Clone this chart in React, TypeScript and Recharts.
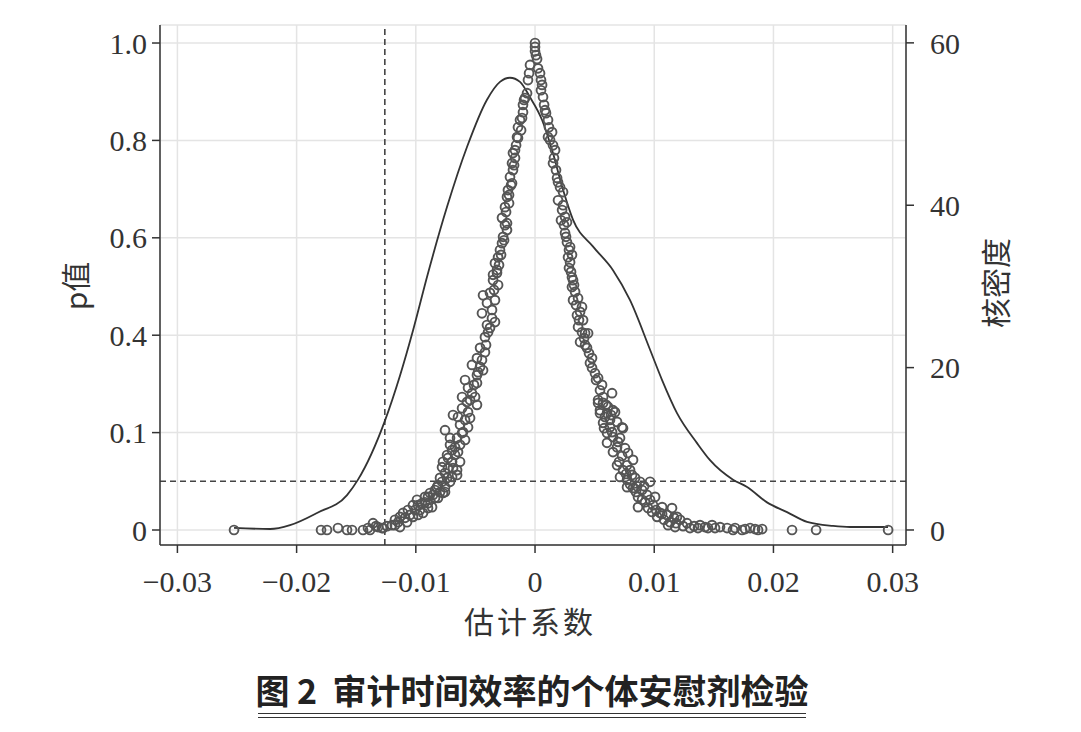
import React from 'react';
import {
  ComposedChart,
  Scatter,
  Line,
  XAxis,
  YAxis,
  CartesianGrid,
  ReferenceLine
} from 'recharts';

// placebo estimates: [coefficient, p value]
const topCluster: [number, number][] = [
  [0, 1.0], [0, 0.992], [0, 0.983], [0.00008, 0.975], [0.00017, 0.967],
  [-0.00042, 0.955], [-0.0005, 0.938], [-0.00059, 0.924],
  [0.00025, 0.948], [0.00042, 0.938], [0.0005, 0.924], [0.00059, 0.914]
];

const leftBranch: [number, number][] = [
  [-0.00067, 0.897], [-0.00084, 0.887], [-0.00101, 0.873], [-0.00101, 0.858],
  [-0.00126, 0.842], [-0.00143, 0.827], [-0.00117, 0.821], [-0.00151, 0.807],
  [-0.00159, 0.79], [-0.00185, 0.774], [-0.00168, 0.764], [-0.00193, 0.753],
  [-0.00185, 0.739], [-0.0021, 0.725], [-0.00193, 0.712], [-0.00227, 0.698],
  [-0.00235, 0.684], [-0.00218, 0.671], [-0.00252, 0.663], [-0.00277, 0.641],
  [-0.00235, 0.63], [-0.00235, 0.616], [-0.00268, 0.602], [-0.00277, 0.589],
  [-0.00294, 0.575], [-0.0031, 0.56], [-0.00336, 0.548], [-0.00319, 0.534],
  [-0.00352, 0.524], [-0.00319, 0.528], [-0.00352, 0.513], [-0.0031, 0.503],
  [-0.00436, 0.482], [-0.00378, 0.487], [-0.00336, 0.472], [-0.00403, 0.466],
  [-0.00445, 0.445], [-0.00361, 0.435], [-0.00336, 0.427], [-0.00403, 0.421],
  [-0.00394, 0.406], [-0.0042, 0.396], [-0.00461, 0.374], [-0.0042, 0.365],
  [-0.00487, 0.353], [-0.00529, 0.339], [-0.00461, 0.335], [-0.00436, 0.328],
  [-0.00487, 0.318], [-0.00587, 0.308], [-0.00487, 0.302], [-0.00562, 0.292],
  [-0.00529, 0.281], [-0.00612, 0.273], [-0.00503, 0.273], [-0.00571, 0.263],
  [-0.00487, 0.257], [-0.00612, 0.25], [-0.00562, 0.242], [-0.00688, 0.236],
  [-0.00646, 0.232], [-0.00587, 0.226], [-0.00629, 0.216], [-0.00562, 0.211],
  [-0.00755, 0.205], [-0.00612, 0.199], [-0.00587, 0.185], [-0.00713, 0.189],
  [-0.00654, 0.189], [-0.00696, 0.164], [-0.00738, 0.154], [-0.00671, 0.154],
  [-0.00772, 0.14], [-0.00696, 0.14], [-0.00629, 0.14], [-0.0078, 0.129],
  [-0.0073, 0.127], [-0.00654, 0.123], [-0.00755, 0.117], [-0.00696, 0.109],
  [-0.00654, 0.113], [-0.00797, 0.107], [-0.00713, 0.099], [-0.00814, 0.092],
  [-0.00755, 0.088], [-0.00839, 0.082], [-0.00772, 0.076], [-0.00881, 0.076],
  [-0.00923, 0.068], [-0.00839, 0.066], [-0.0099, 0.062], [-0.00948, 0.055],
  [-0.00898, 0.055], [-0.01024, 0.051], [-0.00864, 0.047], [-0.00965, 0.041],
  [-0.01066, 0.041], [-0.0094, 0.035], [-0.01107, 0.035], [-0.01133, 0.027],
  [-0.01024, 0.027], [-0.01175, 0.021], [-0.01074, 0.016], [-0.012, 0.01],
  [-0.01133, 0.006], [-0.01275, 0.004]
];

const leftBranchDense: [number, number][] = [
  [-0.0073, 0.148], [-0.00713, 0.175], [-0.00671, 0.17], [-0.00646, 0.16],
  [-0.00688, 0.127], [-0.00738, 0.107], [-0.0078, 0.099], [-0.00822, 0.088],
  [-0.00797, 0.078], [-0.00856, 0.072], [-0.00898, 0.068], [-0.00923, 0.057],
  [-0.00982, 0.051], [-0.01007, 0.041], [-0.01049, 0.031], [-0.0109, 0.025],
  [-0.01149, 0.016], [-0.01175, 0.01], [-0.00982, 0.031], [-0.00898, 0.045],
  [-0.00814, 0.066], [-0.00755, 0.078], [-0.00629, 0.175], [-0.00604, 0.201],
  [-0.00545, 0.23], [-0.00545, 0.267], [-0.00512, 0.298], [-0.00478, 0.324],
  [-0.00445, 0.349], [-0.00411, 0.38], [-0.00378, 0.415], [-0.00361, 0.452],
  [-0.00344, 0.493], [-0.00302, 0.544], [-0.00285, 0.565], [-0.0026, 0.595],
  [-0.00252, 0.626], [-0.00243, 0.653], [-0.00218, 0.688], [-0.00201, 0.708],
  [-0.00176, 0.749], [-0.00168, 0.78], [-0.00143, 0.805], [-0.00109, 0.846],
  [-0.00092, 0.883]
];

const leftTail: [number, number][] = [
  [-0.02525, 0], [-0.01795, 0], [-0.01745, 0], [-0.01653, 0.004], [-0.01577, 0],
  [-0.01535, 0], [-0.01443, 0], [-0.01401, 0.004], [-0.01384, 0], [-0.01359, 0.014],
  [-0.01334, 0.008], [-0.01317, 0.006], [-0.01284, 0.004], [-0.01242, 0.008]
];

const rightBranch: [number, number][] = [
  [0.0005, 0.903], [0.00067, 0.889], [0.00076, 0.873], [0.00092, 0.856],
  [0.00109, 0.842], [0.00117, 0.827], [0.00143, 0.817], [0.00109, 0.807],
  [0.00151, 0.79], [0.00168, 0.78], [0.00151, 0.753], [0.00176, 0.739],
  [0.00185, 0.723], [0.0021, 0.704], [0.00235, 0.694], [0.00193, 0.677],
  [0.00227, 0.657], [0.00252, 0.643], [0.00218, 0.636], [0.00268, 0.632],
  [0.00252, 0.61], [0.0026, 0.602], [0.00268, 0.591], [0.00294, 0.581],
  [0.0031, 0.565], [0.00277, 0.56], [0.00285, 0.538], [0.00302, 0.53],
  [0.0031, 0.519], [0.00319, 0.513], [0.0031, 0.499], [0.00336, 0.489],
  [0.00319, 0.472], [0.00361, 0.476], [0.00394, 0.458], [0.00352, 0.441],
  [0.00369, 0.431], [0.00403, 0.431], [0.00361, 0.417], [0.00394, 0.406],
  [0.0042, 0.404], [0.00445, 0.404], [0.00378, 0.386], [0.0042, 0.38],
  [0.00453, 0.363], [0.00461, 0.343], [0.00478, 0.333], [0.00503, 0.322],
  [0.00529, 0.312], [0.00562, 0.298], [0.00646, 0.281], [0.00529, 0.267],
  [0.00571, 0.261], [0.00612, 0.253], [0.00654, 0.246], [0.00545, 0.24],
  [0.00587, 0.232], [0.00629, 0.226], [0.00688, 0.222], [0.0073, 0.211],
  [0.00529, 0.261], [0.00545, 0.246], [0.00604, 0.24], [0.00671, 0.242],
  [0.00571, 0.22], [0.00629, 0.211], [0.00738, 0.209], [0.00604, 0.199],
  [0.00654, 0.191], [0.00713, 0.189], [0.00604, 0.179], [0.00688, 0.17],
  [0.00755, 0.168], [0.0078, 0.158], [0.00822, 0.144], [0.00688, 0.133],
  [0.00738, 0.123], [0.00797, 0.123], [0.00713, 0.109], [0.00772, 0.103],
  [0.00839, 0.107], [0.00881, 0.099], [0.00965, 0.099], [0.00772, 0.088],
  [0.00822, 0.086], [0.00898, 0.082], [0.00864, 0.068], [0.0094, 0.072],
  [0.01007, 0.068], [0.00923, 0.057], [0.0099, 0.051], [0.01066, 0.047],
  [0.00864, 0.047], [0.00982, 0.037], [0.01049, 0.035], [0.01149, 0.045],
  [0.01107, 0.031], [0.01191, 0.027], [0.01024, 0.027], [0.01133, 0.016],
  [0.01217, 0.021], [0.01116, 0.01], [0.01275, 0.014], [0.01175, 0.006],
  [0.013, 0.004]
];

const rightBranchDense: [number, number][] = [
  [0.00084, 0.862], [0.00126, 0.801], [0.00159, 0.764], [0.00193, 0.714],
  [0.00235, 0.667], [0.00243, 0.626], [0.00285, 0.575], [0.00294, 0.55],
  [0.00327, 0.503], [0.00344, 0.462], [0.00378, 0.448], [0.00411, 0.394],
  [0.00436, 0.374], [0.00478, 0.353], [0.00512, 0.308], [0.00545, 0.287],
  [0.00571, 0.273], [0.00596, 0.257], [0.00638, 0.236], [0.00579, 0.209],
  [0.00646, 0.201], [0.00696, 0.181], [0.00654, 0.16], [0.0073, 0.152],
  [0.00705, 0.14], [0.00772, 0.133], [0.00763, 0.115], [0.00814, 0.113],
  [0.00797, 0.094], [0.00856, 0.09], [0.00915, 0.09], [0.00847, 0.078],
  [0.00898, 0.062], [0.00965, 0.062], [0.00948, 0.045], [0.01015, 0.041],
  [0.01066, 0.033], [0.01082, 0.021], [0.01166, 0.025], [0.01183, 0.014],
  [0.01242, 0.008], [0.01334, 0.008]
];

const rightTail: [number, number][] = [
  [0.01367, 0.004], [0.01384, 0.01], [0.01426, 0.006], [0.01451, 0.004],
  [0.01485, 0.01], [0.0151, 0.004], [0.01552, 0.006], [0.01611, 0.004],
  [0.01661, 0], [0.01678, 0.004], [0.01737, 0], [0.01762, 0.002],
  [0.01804, 0.004], [0.01846, 0.002], [0.01871, 0], [0.01905, 0.002],
  [0.02156, 0], [0.02358, 0], [0.02962, 0]
];

// kernel density of the estimates: [coefficient, density]
const densityCurve: [number, number][] = [
  [-0.02525, 0.25], [-0.02223, 0.12], [-0.02055, 0.6], [-0.01829, 2.1],
  [-0.01577, 4.3], [-0.01485, 6.2], [-0.01258, 13.5],
  [-0.01133, 19.0], [-0.01023, 24.6], [-0.009, 31.5], [-0.00738, 39.8],
  [-0.0057, 47.2], [-0.00403, 53.0], [-0.00294, 55.2], [-0.0021, 55.7],
  [-0.00126, 55.2], [-0.00042, 53.3], [0.00059, 50.5], [0.00143, 46.8],
  [0.00235, 41.9], [0.00319, 38.2], [0.00487, 34.9], [0.00654, 32.0],
  [0.00797, 28.3], [0.00965, 22.2], [0.01065, 18.5], [0.01191, 14.4],
  [0.01359, 10.7], [0.01468, 8.6], [0.01661, 6.2], [0.01779, 5.3],
  [0.01946, 3.4], [0.02114, 2.2], [0.02282, 1.0], [0.025, 0.5],
  [0.02643, 0.37], [0.02961, 0.37]
];

const xTicks = [-0.03, -0.02, -0.01, 0, 0.01, 0.02, 0.03];
const pTicks = [0, 0.2, 0.4, 0.6, 0.8, 1.0];
const pTickLabels = ['0', '0.1', '0.4', '0.6', '0.8', '1.0'];
const densityTicks = [0, 20, 40, 60];
const trueCoef = -0.0126;
const pCutoff = 0.1;

const scatterData = [
  ...topCluster,
  ...leftBranch,
  ...leftBranchDense,
  ...leftTail,
  ...rightBranch,
  ...rightBranchDense,
  ...rightTail
].map(([x, p]) => ({ x, p }));
const densityData = densityCurve.map(([x, d]) => ({ x, d }));

const numFont = '"Liberation Serif", serif';
const cjkFont = '"Noto Sans CJK SC", sans-serif';
const tickStyle = { fontFamily: numFont, fontSize: 30, fill: '#333' };

const fmtX = (v: number) => (v === 0 ? '0' : (v < 0 ? '\u2212' : '') + Math.abs(v).toFixed(2));
const fmtP = (v: number) => {
  const i = pTicks.findIndex((t) => Math.abs(t - v) < 1e-9);
  return i >= 0 ? pTickLabels[i] : String(v);
};

const Ring = (props: any) => (
  <circle cx={props.cx} cy={props.cy} r={4.4} fill="none" stroke="#555" strokeWidth={1.9} />
);

const rotated = (left: number, top: number): React.CSSProperties => ({
  position: 'absolute',
  left,
  top,
  transform: 'translate(-50%, -50%) rotate(-90deg)',
  fontFamily: cjkFont,
  fontSize: 30,
  color: '#333',
  whiteSpace: 'nowrap'
});

const App = () => (
  <div style={{ position: 'relative', width: 1065, height: 716 }}>
    <ComposedChart width={1065} height={600} margin={{ top: 17, right: 47, left: 0, bottom: 3 }}>
      <CartesianGrid yAxisId="p" stroke="#e4e4e4" strokeWidth={1.5} />
      <XAxis
        type="number"
        dataKey="x"
        domain={[-0.03146, 0.03112]}
        ticks={xTicks}
        tickFormatter={fmtX}
        height={60}
        tickSize={8}
        tickMargin={18}
        tick={tickStyle}
        stroke="#333"
        strokeWidth={1.5}
        allowDataOverflow
      />
      <YAxis
        yAxisId="p"
        type="number"
        domain={[-0.0308, 1.037]}
        ticks={pTicks}
        tickFormatter={fmtP}
        width={152}
        tickSize={8}
        tickMargin={5}
        tick={tickStyle}
        stroke="#333"
        strokeWidth={1.5}
        allowDataOverflow
      />
      <YAxis
        yAxisId="d"
        orientation="right"
        type="number"
        domain={[-1.85, 62.2]}
        ticks={densityTicks}
        width={120}
        tickSize={8}
        tickMargin={16}
        tick={tickStyle}
        stroke="#333"
        strokeWidth={1.5}
        allowDataOverflow
      />
      <ReferenceLine yAxisId="p" x={trueCoef} stroke="#444" strokeWidth={1.6} strokeDasharray="6 4" />
      <ReferenceLine yAxisId="p" y={pCutoff} stroke="#444" strokeWidth={1.6} strokeDasharray="6 4" />
      <Scatter yAxisId="p" data={scatterData} dataKey="p" shape={Ring} isAnimationActive={false} />
      <Line
        yAxisId="d"
        data={densityData}
        dataKey="d"
        type="monotone"
        stroke="#333"
        strokeWidth={1.8}
        dot={false}
        isAnimationActive={false}
      />
    </ComposedChart>
    <div style={rotated(66, 278)}>p值</div>
    <div style={rotated(986, 275)}>核密度</div>
    <div
      style={{
        position: 'absolute',
        left: 522,
        top: 612,
        transform: 'translate(-50%, -50%)',
        fontFamily: cjkFont,
        fontSize: 30,
        letterSpacing: 3,
        color: '#333',
        whiteSpace: 'nowrap'
      }}
    >
      估计系数
    </div>
    <div
      style={{
        position: 'absolute',
        left: 524,
        top: 681,
        transform: 'translate(-50%, -50%)',
        fontFamily: cjkFont,
        fontSize: 34,
        fontWeight: 700,
        color: '#222',
        whiteSpace: 'pre'
      }}
    >
      {'图 2  审计时间效率的个体安慰剂检验'}
    </div>
    <div style={{ position: 'absolute', left: 250, top: 705, width: 548, borderTop: '1.5px solid #333' }} />
    <div style={{ position: 'absolute', left: 250, top: 709, width: 548, borderTop: '1.5px solid #333' }} />
  </div>
);

export default App;
